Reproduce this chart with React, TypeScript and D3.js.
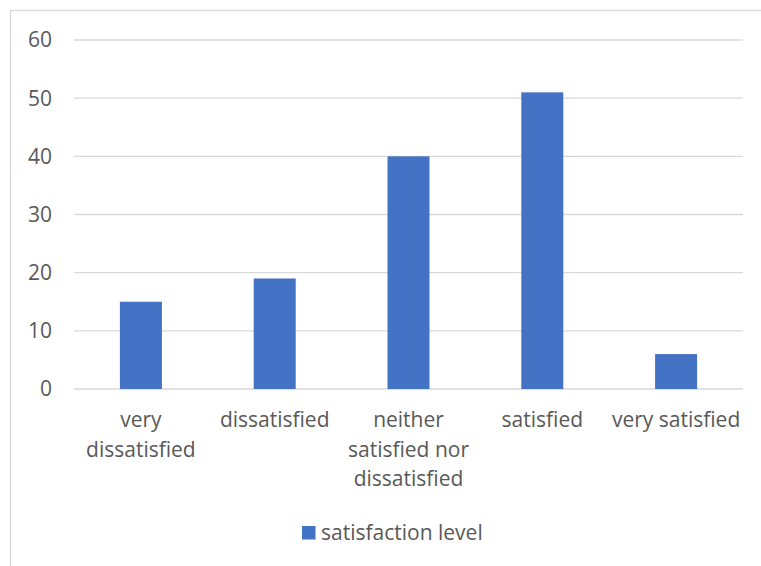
import React, { useEffect, useRef } from "react";
import * as d3 from "d3";

const categories = ["very dissatisfied", "dissatisfied", "neither satisfied nor dissatisfied", "satisfied", "very satisfied"];
const values = [15, 19, 40, 51, 6];
const yTicks = [0, 10, 20, 30, 40, 50, 60];
const seriesName = "satisfaction level";

const W = 761, H = 566;
const FONT = "'Open Sans', sans-serif";
const TEXT = "#595959";
const FS = 21;

export default function App() {
  const ref = useRef<SVGSVGElement>(null);
  useEffect(() => {
    const svg = d3.select(ref.current);
    svg.selectAll("*").remove();
    const left = 74, right = 743, top = 40, bottom = 389;
    const x = d3.scaleBand<string>().domain(categories).range([left, right]);
    const y = d3.scaleLinear().domain([0, 60]).range([bottom, top]);

    svg.append("rect").attr("x", 10.5).attr("y", 10.5).attr("width", W + 10).attr("height", H + 10)
      .attr("fill", "#fff").attr("stroke", "#d9d9d9").attr("stroke-width", 1.3);

    svg.append("g").selectAll("line").data(yTicks).join("line")
      .attr("x1", left).attr("x2", right)
      .attr("y1", d => y(d)).attr("y2", d => y(d))
      .attr("stroke", "#d9d9d9").attr("stroke-width", 1.3);

    svg.append("g").selectAll("text").data(yTicks).join("text")
      .attr("x", 52).attr("y", d => y(d)).attr("dy", "0.35em")
      .attr("text-anchor", "end").attr("font-family", FONT).attr("font-size", FS)
      .attr("fill", TEXT).text(d => String(d));

    const bw = x.step() * 0.314;
    svg.append("g").selectAll("rect").data(values).join("rect")
      .attr("x", (d, i) => x(categories[i])! + x.bandwidth() / 2 - bw / 2)
      .attr("width", bw)
      .attr("y", d => y(d))
      .attr("height", d => bottom - y(d))
      .attr("fill", "#4472C4");

    const maxW = x.step() + 4;
    const lab = svg.append("g");
    categories.forEach(c => {
      const t = lab.append("text").attr("x", x(c)! + x.bandwidth() / 2).attr("y", 427)
        .attr("text-anchor", "middle").attr("font-family", FONT).attr("font-size", FS).attr("fill", TEXT);
      const words = c.split(" ");
      let lines: string[] = [];
      let cur = "";
      const probe = t.append("tspan");
      words.forEach(w => {
        const test = cur ? cur + " " + w : w;
        probe.text(test);
        if ((probe.node() as SVGTSpanElement).getComputedTextLength() > maxW && cur) {
          lines.push(cur);
          cur = w;
        } else cur = test;
      });
      lines.push(cur);
      probe.remove();
      lines.forEach((l, i) => {
        t.append("tspan").attr("x", x(c)! + x.bandwidth() / 2).attr("y", 427 + i * 29.5).text(l);
      });
    });

    const lg = svg.append("g");
    lg.append("rect").attr("x", 302).attr("y", 526).attr("width", 13.5).attr("height", 13.5).attr("fill", "#4472C4");
    lg.append("text").attr("x", 321).attr("y", 532.5).attr("dy", "0.35em")
      .attr("font-family", FONT).attr("font-size", FS).attr("fill", TEXT).text(seriesName);
  }, []);
  return (
    <svg ref={ref} width={W} height={H} style={{ position: "absolute", left: 0, top: 0, display: "block" }} />
  );
}
